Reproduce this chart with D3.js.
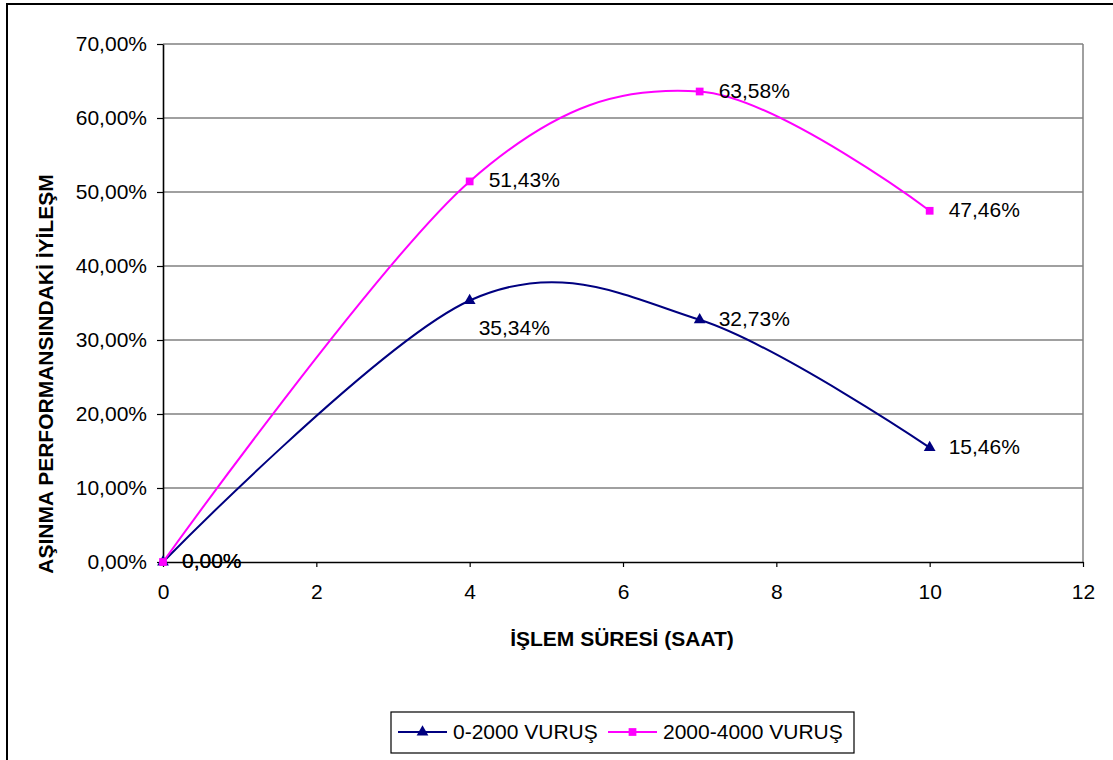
<!DOCTYPE html>
<html>
<head>
<meta charset="utf-8">
<script src="https://cdn.jsdelivr.net/npm/d3@7"></script>
<style>
  html, body { margin: 0; padding: 0; background: #fff; }
  svg { display: block; font-family: "Liberation Sans", Arial, sans-serif; }
</style>
</head>
<body>
<svg id="chart" width="1113" height="760"></svg>
<script>
// Measurement hours and wear-performance improvement (%)
const hours = [0, 4, 7, 10];
const series1Name = "0-2000 VURUŞ";
const series1Values = [0, 35.34, 32.73, 15.46];
const series2Name = "2000-4000 VURUŞ";
const series2Values = [0, 51.43, 63.58, 47.46];
const xTicks = [0, 2, 4, 6, 8, 10, 12];
const yTicks = [0, 10, 20, 30, 40, 50, 60, 70];
const xTitle = "İŞLEM SÜRESİ (SAAT)";
const yTitle = "AŞINMA PERFORMANSINDAKİ İYİLEŞM";

const svg = d3.select("#chart");
const W = 1113, H = 760;
const plot = { left: 163, right: 1083, top: 44, bottom: 562 };

const fmtPct = v => v.toFixed(2).replace(".", ",") + "%";

// Outer chart frame (continues past the visible window)
svg.append("rect")
  .attr("x", 7).attr("y", 4)
  .attr("width", W + 20).attr("height", H + 20)
  .attr("fill", "#fff").attr("stroke", "#000").attr("stroke-width", 2);

const x = d3.scaleLinear().domain([0, 12]).range([plot.left, plot.right]);
const y = d3.scaleLinear().domain([0, 70]).range([plot.bottom, plot.top]);

// Horizontal gridlines
svg.append("g")
  .selectAll("line")
  .data(yTicks.filter(t => t > 0))
  .join("line")
  .attr("x1", plot.left).attr("x2", plot.right)
  .attr("y1", d => y(d)).attr("y2", d => y(d))
  .attr("stroke", "#808080").attr("stroke-width", 1.3);

// Right border of the plot area
svg.append("line")
  .attr("x1", plot.right).attr("x2", plot.right)
  .attr("y1", plot.top).attr("y2", plot.bottom)
  .attr("stroke", "#808080").attr("stroke-width", 1.5);

// Y axis
const yAxis = svg.append("g")
  .attr("transform", `translate(${plot.left},0)`)
  .call(d3.axisLeft(y).tickValues(yTicks).tickFormat(d => fmtPct(d))
    .tickSize(6).tickSizeOuter(0).tickPadding(10));

// X axis
const xAxis = svg.append("g")
  .attr("transform", `translate(0,${plot.bottom})`)
  .call(d3.axisBottom(x).tickValues(xTicks).tickFormat(d3.format("d"))
    .tickSize(5).tickSizeOuter(0).tickPadding(17));

[yAxis, xAxis].forEach(g => {
  g.select(".domain").attr("stroke", "#000").attr("stroke-width", 1.6);
  g.selectAll(".tick line").attr("stroke", "#000").attr("stroke-width", 1.2);
  g.selectAll(".tick text")
    .attr("fill", "#000")
    .style("font-family", "'Liberation Sans', Arial, sans-serif")
    .style("font-size", "21px");
});

// Axis titles
svg.append("text")
  .attr("x", (plot.left + plot.right) / 2 - 1)
  .attr("y", 646)
  .attr("text-anchor", "middle")
  .style("font-size", "21px").style("font-weight", "bold")
  .text(xTitle);

svg.append("text")
  .attr("transform", "translate(53,374) rotate(-90)")
  .attr("text-anchor", "middle")
  .style("font-size", "21px").style("font-weight", "bold")
  .text(yTitle);

// Smoothed series lines
const line = d3.line()
  .x(d => x(d[0]))
  .y(d => y(d[1]))
  .curve(d3.curveCardinal.tension(0));

const series = [
  { name: series1Name, values: series1Values, color: "#000080", symbol: d3.symbolTriangle, size: 60 },
  { name: series2Name, values: series2Values, color: "#FF00FF", symbol: d3.symbolSquare, size: 60 }
];

series.forEach(s => {
  const pts = hours.map((h, i) => [h, s.values[i]]);
  svg.append("path")
    .datum(pts)
    .attr("fill", "none")
    .attr("stroke", s.color)
    .attr("stroke-width", 2)
    .attr("d", line);
});

// Markers drawn above both lines
series.forEach(s => {
  const pts = hours.map((h, i) => [h, s.values[i]]);
  svg.append("g")
    .selectAll("path")
    .data(pts)
    .join("path")
    .attr("transform", d => `translate(${x(d[0])},${y(d[1])})`)
    .attr("d", d3.symbol().type(s.symbol).size(s.size))
    .attr("fill", s.color);
});

// Value labels: default to the right of the point, one sits below its marker
const labelOffset = (seriesIdx, i) => {
  if (seriesIdx === 0 && i === 1) return [9, 35];
  return [19, 6];
};
series.forEach((s, si) => {
  svg.append("g")
    .selectAll("text")
    .data(hours.map((h, i) => [h, s.values[i], i]))
    .join("text")
    .attr("x", d => x(d[0]) + labelOffset(si, d[2])[0])
    .attr("y", d => y(d[1]) + labelOffset(si, d[2])[1])
    .style("font-size", "21px")
    .attr("fill", "#000")
    .text(d => fmtPct(d[1]));
});

// Legend
const legend = svg.append("g");
legend.append("rect")
  .attr("x", 391).attr("y", 712).attr("width", 463).attr("height", 41)
  .attr("fill", "#fff").attr("stroke", "#000").attr("stroke-width", 1.2);

const legendItems = [
  { s: series[0], x0: 398, tx: 453 },
  { s: series[1], x0: 608, tx: 663 }
];
legendItems.forEach(it => {
  legend.append("line")
    .attr("x1", it.x0).attr("x2", it.x0 + 49)
    .attr("y1", 732).attr("y2", 732)
    .attr("stroke", it.s.color).attr("stroke-width", 2);
  legend.append("path")
    .attr("transform", `translate(${it.x0 + 24.5},732)`)
    .attr("d", d3.symbol().type(it.s.symbol).size(it.s.size))
    .attr("fill", it.s.color);
  legend.append("text")
    .attr("x", it.tx).attr("y", 739)
    .style("font-size", "21px")
    .attr("fill", "#000")
    .text(it.s.name);
});
</script>
</body>
</html>
